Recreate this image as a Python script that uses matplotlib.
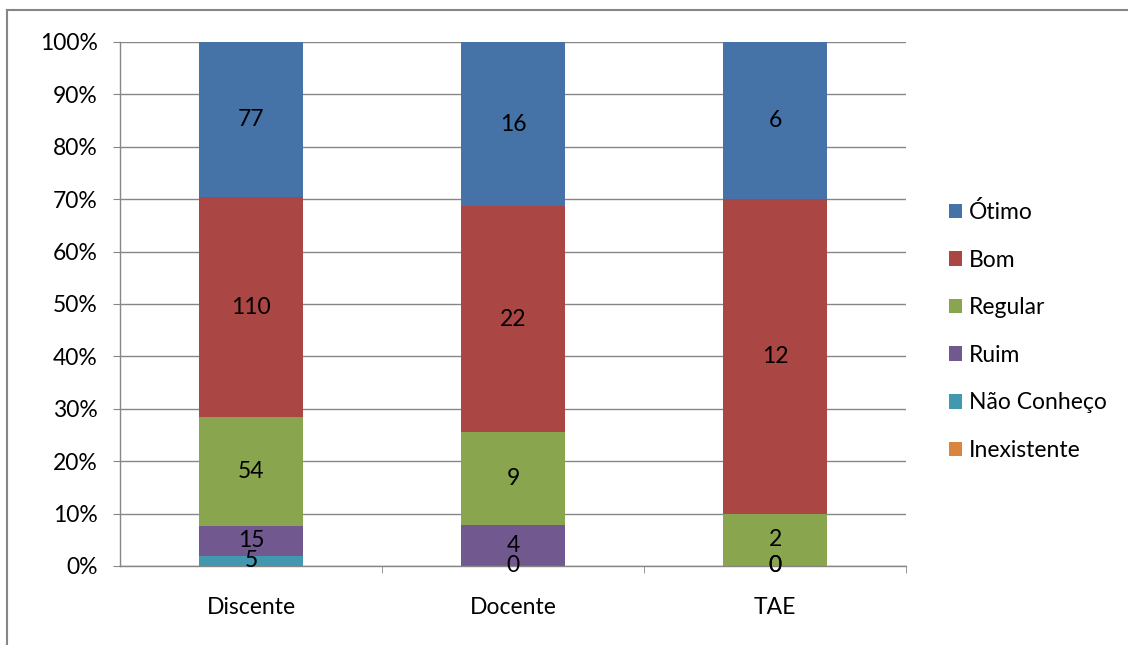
import numpy as np
import matplotlib
matplotlib.use("Agg")
import matplotlib.pyplot as plt
from matplotlib.lines import Line2D

plt.rcParams['font.family'] = ['Lato', 'DejaVu Sans']

categorias = ['Discente', 'Docente', 'TAE']
series = ['Ótimo', 'Bom', 'Regular', 'Ruim', 'Não Conheço', 'Inexistente']
otimo = [77, 16, 6]
bom = [110, 22, 12]
regular = [54, 9, 2]
ruim = [15, 4, 0]
nao_conheco = [5, 0, 0]
inexistente = [np.nan, np.nan, np.nan]  # sem rótulo no original

cores = ['#4572A7', '#AA4643', '#89A54E', '#71588F', '#4198AF', '#DB843D']

# ordem de empilhamento: de baixo para cima
pilha = [inexistente, nao_conheco, ruim, regular, bom, otimo]
nomes_pilha = series[::-1]
cores_pilha = cores[::-1]

dados = np.array([np.nan_to_num(np.array(s, dtype=float)) for s in pilha])
totais = dados.sum(axis=0)
perc = dados / totais * 100

fs = 16.5

fig = plt.figure(figsize=(11.28, 6.45), dpi=100)
ax = fig.add_axes([120 / 1128, 1 - 566 / 645, 786 / 1128, 524 / 645])

x = np.arange(len(categorias))
base = np.zeros(len(categorias))
handles = {}
for i, nome in enumerate(nomes_pilha):
    b = ax.bar(x, perc[i], 0.397, bottom=base, color=cores_pilha[i], zorder=2)
    handles[nome] = b
    for j in range(len(categorias)):
        v = pilha[i][j]
        if not np.isnan(v):
            ax.text(x[j], base[j] + perc[i][j] / 2, '%d' % v, ha='center', va='center',
                    fontsize=fs, color='black', zorder=3)
    base = base + perc[i]

ax.set_xlim(-0.5, 2.5)
ax.set_ylim(0, 100)
ax.set_yticks(np.arange(0, 101, 10))
ax.set_yticklabels(['%d%%' % v for v in range(0, 101, 10)], fontsize=fs)
ax.yaxis.grid(True, color='#868686', linewidth=1, zorder=0)
ax.set_axisbelow(True)

ax.set_xticks(x)
ax.set_xticklabels(categorias, fontsize=fs)
ax.tick_params(axis='x', length=0, pad=22)
ax.set_xticks([0.5, 1.5, 2.5], minor=True)
ax.tick_params(axis='x', which='minor', length=5, color='#868686', direction='out')
ax.tick_params(axis='y', length=5, color='#868686', direction='out', pad=11)

for s in ['top', 'right']:
    ax.spines[s].set_visible(False)
for s in ['left', 'bottom']:
    ax.spines[s].set_color('#868686')
    ax.spines[s].set_linewidth(1)

leg = fig.legend([handles[n] for n in series], series, loc='center left',
                 bbox_to_anchor=(928 / 1128, 1 - 331 / 645), frameon=False,
                 fontsize=fs, handlelength=0.6, handleheight=0.6, handletextpad=0.3,
                 labelspacing=1.16)

# moldura externa do gráfico
fig.add_artist(Line2D([7 / 1128, 7 / 1128], [0, 1 - 10 / 645], color='#868686', linewidth=1.5))
fig.add_artist(Line2D([7 / 1128, 1], [1 - 10 / 645, 1 - 10 / 645], color='#868686', linewidth=1.5))

fig.savefig('out.png', dpi=100, facecolor='white')
